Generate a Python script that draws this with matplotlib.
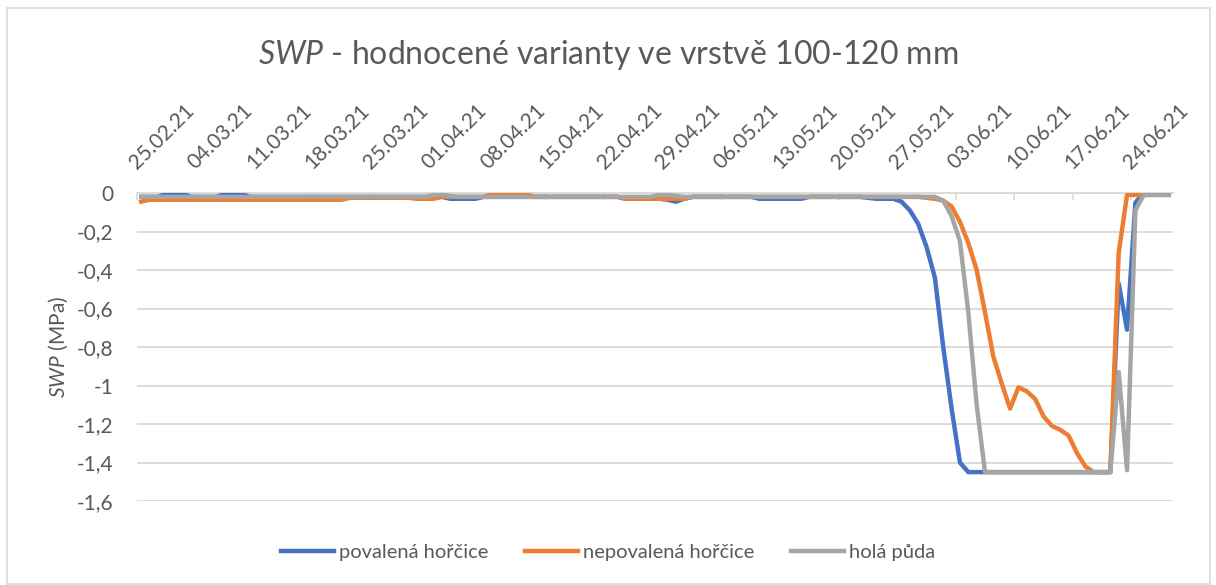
import pandas as pd
import matplotlib
matplotlib.use('Agg')
import matplotlib.pyplot as plt
import matplotlib.dates as mdates
from matplotlib.ticker import FuncFormatter, MultipleLocator
from matplotlib.patches import Rectangle

# denni hodnoty SWP (MPa) od 25.02.21, 124 dni
dates = pd.date_range('2021-02-25', periods=124, freq='D') + pd.Timedelta(hours=12)

povalena = [
    -0.02, -0.02, -0.02, -0.005, -0.005, -0.005, -0.02, -0.02, -0.02, -0.02,
    -0.005, -0.005, -0.005, -0.02, -0.02, -0.02, -0.02, -0.02, -0.02, -0.02,
    -0.02, -0.02, -0.02, -0.02, -0.02, -0.02, -0.02, -0.02, -0.02, -0.02,
    -0.02, -0.02, -0.02, -0.02, -0.02, -0.02, -0.02, -0.03, -0.03, -0.03,
    -0.03, -0.02, -0.02, -0.02, -0.02, -0.02, -0.02, -0.02, -0.02, -0.02,
    -0.02, -0.02, -0.02, -0.02, -0.02, -0.02, -0.02, -0.02, -0.03, -0.03,
    -0.03, -0.03, -0.03, -0.035, -0.045, -0.03, -0.02, -0.02, -0.02, -0.02,
    -0.02, -0.02, -0.02, -0.02, -0.03, -0.03, -0.03, -0.03, -0.03, -0.03,
    -0.02, -0.02, -0.02, -0.02, -0.02, -0.02, -0.02, -0.025, -0.03, -0.03,
    -0.03, -0.045, -0.09, -0.16, -0.28, -0.44, -0.80, -1.12, -1.40, -1.45,
    -1.45, -1.45, -1.45, -1.45, -1.45, -1.45, -1.45, -1.45, -1.45, -1.45,
    -1.45, -1.45, -1.45, -1.45, -1.45, -1.45, -1.45, -0.47, -0.71, -0.05,
    0.0, 0.0, 0.0, 0.0,
]

nepovalena = [
    -0.045, -0.035, -0.035, -0.035, -0.035, -0.035, -0.035, -0.035, -0.035, -0.035,
    -0.035, -0.035, -0.035, -0.035, -0.035, -0.035, -0.035, -0.035, -0.035, -0.035,
    -0.035, -0.035, -0.035, -0.035, -0.035, -0.025, -0.025, -0.025, -0.025, -0.025,
    -0.025, -0.025, -0.025, -0.03, -0.03, -0.03, -0.02, -0.02, -0.02, -0.02,
    -0.02, -0.02, -0.005, -0.005, -0.005, -0.005, -0.005, -0.02, -0.02, -0.02,
    -0.02, -0.02, -0.02, -0.02, -0.02, -0.02, -0.02, -0.02, -0.03, -0.03,
    -0.03, -0.03, -0.03, -0.03, -0.03, -0.03, -0.02, -0.02, -0.02, -0.02,
    -0.02, -0.02, -0.02, -0.02, -0.02, -0.02, -0.02, -0.02, -0.02, -0.02,
    -0.02, -0.02, -0.02, -0.02, -0.02, -0.02, -0.02, -0.02, -0.02, -0.02,
    -0.02, -0.02, -0.02, -0.02, -0.025, -0.03, -0.04, -0.07, -0.15, -0.26,
    -0.40, -0.62, -0.85, -0.99, -1.12, -1.01, -1.03, -1.07, -1.16, -1.21,
    -1.23, -1.26, -1.35, -1.42, -1.45, -1.45, -1.45, -0.31, -0.01, -0.01,
    -0.01, -0.01, -0.01, -0.01,
]

hola = [
    -0.02, -0.02, -0.02, -0.02, -0.02, -0.02, -0.02, -0.02, -0.02, -0.02,
    -0.02, -0.02, -0.02, -0.02, -0.02, -0.02, -0.02, -0.02, -0.02, -0.02,
    -0.02, -0.02, -0.02, -0.02, -0.02, -0.02, -0.02, -0.02, -0.02, -0.02,
    -0.02, -0.02, -0.02, -0.02, -0.02, -0.01, -0.01, -0.015, -0.02, -0.02,
    -0.02, -0.02, -0.02, -0.02, -0.02, -0.02, -0.02, -0.02, -0.02, -0.02,
    -0.02, -0.02, -0.02, -0.02, -0.02, -0.02, -0.02, -0.02, -0.02, -0.02,
    -0.02, -0.02, -0.01, -0.01, -0.015, -0.02, -0.02, -0.02, -0.02, -0.02,
    -0.02, -0.02, -0.02, -0.02, -0.02, -0.02, -0.02, -0.02, -0.02, -0.02,
    -0.02, -0.02, -0.02, -0.02, -0.02, -0.02, -0.02, -0.02, -0.02, -0.02,
    -0.02, -0.02, -0.02, -0.02, -0.02, -0.02, -0.04, -0.12, -0.25, -0.62,
    -1.10, -1.45, -1.45, -1.45, -1.45, -1.45, -1.45, -1.45, -1.45, -1.45,
    -1.45, -1.45, -1.45, -1.45, -1.45, -1.45, -1.45, -0.93, -1.44, -0.09,
    -0.01, -0.01, -0.01, -0.01,
]

labels = ['povalená hořčice', 'nepovalená hořčice', 'holá půda']
colors = ['#4472C4', '#ED7D31', '#A5A5A5']
tick_dates = pd.date_range('2021-02-25', '2021-06-24', freq='7D')

plt.rcParams['font.family'] = 'Lato'
plt.rcParams['mathtext.fontset'] = 'custom'
plt.rcParams['mathtext.it'] = 'Lato:italic'
plt.rcParams['mathtext.rm'] = 'Lato'
text_col = '#595959'
fs = 15

W, H = 1216, 585
fig = plt.figure(figsize=(W / 100, H / 100), dpi=100)
ax = fig.add_axes([137 / W, 1 - 501 / H, (1173 - 137) / W, (501 - 193) / H])

for vals, lab, col in zip([povalena, nepovalena, hola], labels, colors):
    ax.plot(dates, vals, color=col, lw=3.2, label=lab, solid_joinstyle='round', zorder=3)

ax.set_ylim(-1.6, 0)
ax.set_xlim(pd.Timestamp('2021-02-25'), pd.Timestamp('2021-06-29'))


def carka(v, pos):
    if abs(v) < 1e-9:
        return '0'
    return ('%g' % round(v, 1)).replace('.', ',')


ax.yaxis.set_major_locator(MultipleLocator(0.2))
ax.yaxis.set_major_formatter(FuncFormatter(carka))
ax.tick_params(axis='y', length=0, pad=17, labelsize=fs, labelcolor=text_col)

ax.xaxis.tick_top()
ax.set_xticks(tick_dates)
ax.xaxis.set_major_formatter(mdates.DateFormatter('%d.%m.%y'))
ax.tick_params(axis='x', direction='in', length=5, width=1.2, color='#D9D9D9',
               pad=16.5, labelsize=fs, labelcolor=text_col)
for t in ax.xaxis.get_major_ticks():
    t.label2.set_rotation(45)
    t.label2.set_rotation_mode('anchor')
    t.label2.set_ha('left')
    t.label2.set_va('baseline')

ax.grid(axis='y', color='#D9D9D9', lw=1.3)
ax.set_axisbelow(True)
for s in ['left', 'right', 'bottom']:
    ax.spines[s].set_visible(False)
ax.spines['top'].set_color('#D9D9D9')
ax.spines['top'].set_linewidth(1.3)

fig.text(0.5, 1 - 55 / H, r'$\mathit{SWP}$ - hodnocené varianty ve vrstvě 100-120 mm',
         ha='center', va='center', fontsize=23, color=text_col)
fig.text(58 / W, 1 - 347 / H, r'$\mathit{SWP}$ (MPa)', rotation=90,
         ha='center', va='center', fontsize=fs, color=text_col)

fig.legend(loc='center', bbox_to_anchor=(0.5, 1 - 552 / H), ncol=3, frameon=False,
           fontsize=14.5, handlelength=2.65, handletextpad=0.25, columnspacing=1.8,
           labelcolor=text_col)

fig.add_artist(Rectangle((7 / W, 1 / H), (1210 - 7) / W, (577 - 1) / H,
                         transform=fig.transFigure, fill=False, ec='#D9D9D9', lw=1.2))

fig.savefig('out.png', dpi=100)
